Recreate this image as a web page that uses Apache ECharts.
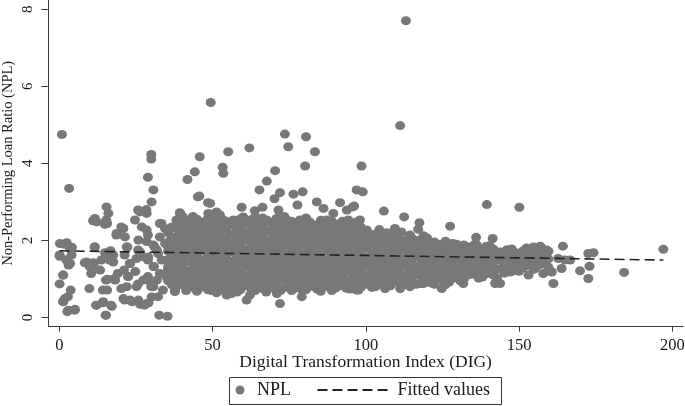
<!DOCTYPE html>
<html>
<head>
<meta charset="utf-8">
<title>NPL vs DIG</title>
<script src="https://cdn.jsdelivr.net/npm/echarts@6.0.0/dist/echarts.min.js"></script>
<style>html,body{margin:0;padding:0;background:#fff;}</style>
</head>
<body>
<div id="main" style="width:685px;height:406px;"></div>
<script type="text/javascript">
// tick values
var xTicks = [0, 50, 100, 150, 200];
var yTicks = [0, 2, 4, 6, 8];

// sparse points, low DIG (x < 35)
var lowPts = [
  [0.85,4.75],[3.2,3.35],[0.2,1.92],[2.4,1.94],[3.5,1.79],[4.0,1.62],[0.1,1.59],[2.4,1.49],[3.5,1.4],[1.3,1.1],
  [0.1,0.87],[3.7,0.71],[1.8,0.49],[1.3,0.41],[2.9,0.19],[5.1,0.21],[4.1,1.82],[9.8,0.75],[8.9,1.44],[11.1,1.42],
  [11.6,1.83],[11.3,1.33],[11.6,2.57],[12.2,2.48],[13.3,1.23],[12.0,0.32],[14.3,0.41],[17.1,0.29],[15.2,0.06],[15.4,2.87],
  [16.0,2.7],[15.6,2.44],[14.9,1.68],[16.5,1.53],[15.2,0.97],[15.6,0.71],[18.2,0.97],[17.6,1.62],[17.6,1.44],[18.7,2.18],
  [20.9,2.31],[21.4,2.09],[22.0,1.83],[23.1,1.4],[21.1,1.23],[22.5,1.06],[22.0,0.8],[24.7,2.53],[26.3,2.74],[28.5,2.7],
  [26.9,2.35],[28.5,2.27],[25.8,2.01],[28.5,1.97],[26.3,1.7],[25.2,1.53],[29.0,1.57],[30.7,1.32],[25.2,0.8],[27.4,0.97],
  [26.3,0.34],[28.5,0.36],[25.8,0.45],[20.9,0.49],[23.1,0.45],[30.1,0.53],[30.7,0.8],[29.6,0.93],[30.7,1.88],[31.8,1.75],
  [30.1,3.0],[30.7,3.31],[32.8,2.44],[34.5,2.31],[32.8,2.09],[34.5,1.92],[33.4,1.49],[32.8,1.14],[31.8,0.97],[32.6,0.06],
  [35.3,0.03],[30.0,4.23],[30.0,4.11],[28.9,3.64],[16.7,1.73],[15.9,1.62],[13.7,1.49],[16.4,1.49],[22.2,1.83],[21.3,1.62],
  [23.0,1.4],[25.7,1.75],[26.8,1.58],[28.9,1.49],[31.1,1.83],[32.2,1.66],[30.9,1.32],[10.4,1.14],[14.2,0.71],[15.7,0.99],
  [18.0,1.01],[20.2,0.75],[21.3,0.45],[23.7,0.41],[27.8,0.32],[29.1,0.38],[22.4,1.06],[24.8,1.19],[25.7,0.87],[32.2,0.54],
  [33.8,0.71],[30.0,0.8],[28.9,1.06],[34.9,1.06],[19.1,1.14],[11.0,2.51],[14.8,2.42],[15.3,2.53],[25.7,2.79],[28.4,2.8],
  [20.2,2.35],[18.6,2.14],[28.9,2.14],[33.3,2.44],[1.7,1.9],[0.1,1.62],[2.3,1.5],[3.0,1.36],[1.2,1.1],[2.8,0.54],
  [1.2,0.41],[2.6,0.15],[5.0,0.19],[8.3,1.42],[9.9,1.32],[12.1,0.32],[14.2,0.38],[15.1,0.06],[16.9,0.32],[11.5,1.83]
];

// edges and outliers of the main cloud (35 < x < 100)
var midPts = [
  [45.8,4.17],[44.2,3.78],[41.8,3.58],[45.2,3.13],[48.5,2.98],[39.3,2.72],[38.2,2.53],[42.0,2.53],[43.6,2.62],[36.5,2.0],
  [35.5,1.83],[36.5,1.58],[35.5,1.32],[37.2,1.23],[38.3,0.97],[37.7,0.67],[39.4,2.7],[43.7,2.57],[45.9,2.48],[48.6,2.7],
  [51.3,2.74],[49.2,2.96],[45.7,3.15],[51.3,0.67],[54.6,0.58],[61.1,0.45],[49.4,5.58],[53.3,3.9],[53.5,3.74],[55.1,4.3],
  [62.0,4.4],[70.4,3.81],[67.7,3.54],[65.3,3.31],[72.0,3.24],[70.2,3.08],[76.4,3.2],[79.4,3.26],[73.6,4.76],[74.7,4.43],
  [80.5,4.69],[83.4,4.3],[80.2,3.93],[77.7,2.92],[71.5,2.79],[59.5,2.86],[63.8,2.77],[66.3,2.86],[84.0,3.0],[86.2,2.83],
  [91.6,2.98],[89.4,2.7],[93.8,2.79],[96.2,2.89],[97.0,3.31],[98.6,3.93],[99.0,3.26],[60.0,2.61],[56.8,2.53],[52.4,2.66],
  [50.2,2.61],[48.1,2.53],[78.5,2.53],[81.8,2.44],[87.2,2.53],[91.6,2.44],[94.3,2.53],[97.0,2.48],[67.7,2.53],[70.9,2.57],
  [74.2,2.53],[51.3,0.64],[56.2,0.62],[62.2,0.58],[72.0,0.36],[79.1,0.54],[84.5,0.75],[97.0,0.71],[65.5,0.8],[74.2,0.8],
  [89.4,0.84],[48.1,0.88]
];

// points beyond DIG 95
var highPts = [
  [111.2,4.98],[113.1,7.7],[95.7,2.87],[105.9,2.76],[112.5,2.61],[117.5,2.46],[117.1,2.29],[127.5,2.37],[139.5,2.93],[136.0,2.08],
  [141.4,2.05],[146.0,1.75],[109.5,2.31],[110.1,2.14],[114.4,2.14],[115.0,2.05],[98.1,2.53],[100.3,2.27],[103.5,2.05],[105.7,1.92],
  [109.0,1.83],[121.0,1.79],[124.2,1.75],[128.6,1.83],[130.7,1.85],[134.0,1.83],[136.2,1.88],[140.5,1.7],[142.7,1.62],[124.8,0.75],
  [131.8,0.88],[142.2,0.88],[111.2,0.75],[114.4,0.8],[97.6,0.71],[106.3,0.75],[101.4,0.84],[118.8,0.88],[127.5,1.06],[139.5,1.14],
  [144.9,1.23],[150.1,2.86],[164.3,1.85],[146.2,1.75],[152.0,1.76],[154.7,1.83],[156.9,1.85],[159.0,1.75],[153.6,1.62],[156.3,1.62],
  [158.0,1.62],[172.6,1.66],[174.3,1.68],[197.1,1.77],[169.9,1.21],[173.0,1.33],[172.6,1.01],[184.3,1.17],[161.2,0.88],[160.7,1.18],
  [163.9,1.27],[166.7,1.49],[143.8,0.88],[147.1,1.18],[153.1,1.1],[157.9,1.14],[155.2,1.27],[153.6,1.4],[149.2,1.36],[150.3,1.57],
  [144.9,1.49],[146.0,1.27],[162.8,1.53],[165.0,1.49]
];

// dense core of the cloud, read column by column
var coreDig = [35.5, 37.8, 40.2, 42.6, 44.9, 47.3, 49.6, 52.1, 54.4, 56.8, 59.1, 61.5, 63.9,
               66.3, 68.7, 71.0, 73.4, 75.8, 78.2, 80.5, 82.9, 85.3, 87.7, 90.1, 92.4, 94.8,
               97.2, 99.6, 102.0, 104.4, 106.8, 109.2, 111.6, 114.0, 116.4, 118.8, 121.2, 123.6, 126.0, 128.4, 130.8,
               133.2, 135.6, 138.0, 140.4, 142.8, 145.2, 147.6, 150.0, 152.4, 154.8, 157.2, 159.6];
var coreNpl = [
  [0.95,1.25,1.5,1.72,1.95,2.2],
  [0.72,1.02,1.3,1.55,1.8,2.05,2.32],
  [0.85,1.08,1.35,1.6,1.82,2.1,2.38,2.62],
  [0.78,1.0,1.22,1.45,1.7,1.93,2.15,2.4],
  [0.68,0.92,1.15,1.38,1.62,1.85,2.08,2.3,2.55],
  [0.82,1.05,1.28,1.5,1.75,1.98,2.2,2.45],
  [0.7,0.95,1.18,1.4,1.65,1.88,2.12,2.36,2.6],
  [0.8,1.02,1.25,1.48,1.7,1.95,2.18,2.42],
  [0.66,0.9,1.12,1.35,1.58,1.8,2.05,2.28,2.5],
  [0.78,1.0,1.22,1.46,1.7,1.92,2.15,2.4],
  [0.72,0.95,1.18,1.42,1.64,1.88,2.1,2.34,2.56],
  [0.82,1.06,1.3,1.52,1.76,2.0,2.22,2.45],
  [0.7,0.92,1.15,1.38,1.6,1.84,2.08,2.3,2.6],
  [0.75,0.98,1.2,1.44,1.66,1.9,2.12,2.36,2.58],
  [0.85,1.08,1.3,1.54,1.78,2.0,2.24,2.48],
  [0.62,0.9,1.14,1.36,1.6,1.82,2.06,2.3,2.55],
  [0.78,1.0,1.24,1.46,1.7,1.94,2.16,2.4,2.62],
  [0.7,0.94,1.16,1.4,1.62,1.86,2.1,2.32,2.5],
  [0.84,1.06,1.3,1.52,1.76,1.98,2.22,2.46],
  [0.72,0.96,1.2,1.42,1.66,1.88,2.12,2.36,2.58],
  [0.8,1.02,1.26,1.48,1.72,1.95,2.18,2.4],
  [0.68,0.92,1.14,1.38,1.6,1.84,2.06,2.3,2.52],
  [0.82,1.04,1.28,1.5,1.74,1.96,2.2,2.44],
  [0.76,0.98,1.22,1.44,1.68,1.9,2.14,2.36],
  [0.86,1.1,1.32,1.56,1.78,2.02,2.26,2.5],
  [0.74,0.96,1.2,1.42,1.66,1.88,2.1,2.34],
  [0.8,1.02,1.26,1.48,1.72,1.94,2.16,2.4],
  [0.88,1.1,1.34,1.56,1.8,2.02,2.24],
  [0.78,1.0,1.22,1.46,1.68,1.9,2.14],
  [0.9,1.12,1.36,1.58,1.82,2.04,2.28],
  [0.8,1.04,1.26,1.5,1.72,1.96,2.2],
  [0.92,1.14,1.38,1.6,1.84,2.06],
  [0.84,1.06,1.3,1.52,1.76,1.98,2.22],
  [0.95,1.18,1.4,1.64,1.86,2.08],
  [0.86,1.1,1.32,1.56,1.78,2.0],
  [0.98,1.2,1.44,1.66,1.9,2.12],
  [0.9,1.12,1.36,1.58,1.8],
  [1.0,1.22,1.46,1.68,1.9],
  [0.85,1.08,1.3,1.54,1.76,1.98],
  [1.02,1.25,1.48,1.7,1.92],
  [0.95,1.18,1.4,1.62,1.85],
  [1.1,1.32,1.55,1.78],
  [1.22,1.45,1.68,1.9],
  [1.05,1.3,1.52,1.75],
  [1.18,1.4,1.62,1.86],
  [1.02,1.26,1.5,1.7],
  [1.15,1.38,1.6],
  [1.3,1.52,1.78],
  [1.2,1.44,1.66],
  [1.35,1.58,1.8],
  [1.25,1.48,1.7],
  [1.38,1.6,1.82],
  [1.3,1.52,1.72]
];

// second pass over the core, between the columns above
var core2Dig = [36.7, 39.0, 41.4, 43.8, 46.1, 48.5, 50.8, 53.3, 55.6, 58.0, 60.3, 62.7, 65.1,
                67.5, 69.9, 72.2, 74.6, 77.0, 79.4, 81.7, 84.1, 86.5, 88.9, 91.3, 93.6, 96.0,
                98.4, 100.8, 103.2, 105.6, 108.0, 110.4, 112.8, 115.2, 117.6, 120.0, 122.4, 124.8, 127.2, 129.6,
                132.0, 134.4, 136.8, 139.2, 141.6, 144.0, 146.4, 148.8, 151.2, 153.6, 156.0, 158.4];
var core2Npl = [
  [0.85,1.12,1.38,1.62,1.85,2.08,2.35],
  [0.88,1.15,1.42,1.68,1.92,2.18,2.45],
  [0.7,0.96,1.2,1.48,1.72,1.96,2.25,2.5],
  [0.88,1.1,1.32,1.58,1.8,2.04,2.28,2.48],
  [0.78,1.02,1.25,1.5,1.74,1.96,2.2,2.42],
  [0.72,0.94,1.16,1.4,1.62,1.86,2.1,2.32,2.56],
  [0.84,1.06,1.3,1.52,1.76,2.0,2.24,2.48],
  [0.72,0.92,1.14,1.36,1.6,1.84,2.06,2.3,2.54],
  [0.8,1.02,1.24,1.46,1.7,1.92,2.16,2.4],
  [0.66,0.88,1.1,1.34,1.58,1.8,2.04,2.28,2.5],
  [0.84,1.06,1.3,1.54,1.76,2.0,2.22,2.46],
  [0.72,0.94,1.18,1.4,1.64,1.88,2.1,2.34,2.54],
  [0.82,1.04,1.26,1.5,1.72,1.96,2.2,2.46],
  [0.66,0.88,1.1,1.34,1.56,1.8,2.02,2.26,2.5],
  [0.76,1.0,1.22,1.46,1.7,1.92,2.16,2.4],
  [0.7,1.02,1.26,1.48,1.72,1.96,2.18,2.42,2.6],
  [0.88,1.1,1.34,1.58,1.8,2.04,2.28,2.5],
  [0.76,1.0,1.22,1.46,1.7,1.92,2.16,2.4],
  [0.7,0.94,1.18,1.4,1.64,1.86,2.1,2.34,2.52],
  [0.84,1.08,1.3,1.54,1.76,2.0,2.24,2.48],
  [0.74,0.96,1.2,1.42,1.66,1.88,2.12,2.36],
  [0.8,1.04,1.26,1.5,1.72,1.96,2.18,2.42],
  [0.7,0.92,1.16,1.38,1.62,1.84,2.08,2.3,2.5],
  [0.82,1.06,1.28,1.52,1.74,1.98,2.2,2.42],
  [0.76,0.98,1.22,1.44,1.68,1.9,2.14,2.38],
  [0.86,1.08,1.32,1.54,1.78,2.0,2.24],
  [0.78,1.0,1.22,1.46,1.68,1.92,2.14,2.34],
  [0.86,1.1,1.34,1.56,1.8,2.02,2.2],
  [0.8,1.02,1.26,1.48,1.72,1.94,2.16],
  [0.9,1.14,1.38,1.6,1.84,2.06],
  [0.82,1.04,1.28,1.5,1.74,1.96,2.18],
  [0.94,1.18,1.4,1.64,1.86,2.08],
  [0.86,1.08,1.32,1.54,1.78,2.0],
  [0.92,1.14,1.38,1.6,1.84,2.04],
  [0.88,1.1,1.34,1.56,1.78,2.0],
  [0.96,1.2,1.42,1.66,1.88,2.06],
  [0.86,1.08,1.3,1.54,1.76,1.96],
  [0.98,1.2,1.44,1.66,1.88],
  [0.92,1.14,1.36,1.6,1.82],
  [1.05,1.28,1.5,1.74,1.9],
  [1.0,1.22,1.44,1.66,1.88],
  [1.12,1.35,1.58,1.8],
  [1.02,1.25,1.48,1.7],
  [1.2,1.42,1.64,1.84],
  [1.1,1.32,1.55,1.78],
  [1.25,1.48,1.7],
  [1.4,1.62],
  [1.22,1.48,1.68],
  [1.28,1.5,1.72],
  [1.5,1.74],
  [1.35,1.56,1.76],
  [1.42,1.66]
];

// fitted line end points
var fitDig = [0.1, 197.1];
var fitNpl = [1.73, 1.49];

var myChart = echarts.init(document.getElementById('main'));

var npl = lowPts.concat(midPts, highPts);
function addColumns(xs, ys) {
    for (var i = 0; i < xs.length; i++) {
        for (var j = 0; j < ys[i].length; j++) {
            npl.push([xs[i], ys[i][j]]);
        }
    }
}
addColumns(coreDig, coreNpl);
addColumns(core2Dig, core2Npl);

var fitted = [];
for (var k = 0; k < fitDig.length; k++) {
    fitted.push([fitDig[k], fitNpl[k]]);
}

var serif = "'Liberation Serif', 'Times New Roman', serif";
var ink = '#1a1a1a';
var axisCol = '#3a3a3a';

var option = {
    animation: false,
    backgroundColor: '#fff',
    grid: { left: 48.3, right: 2, top: 0, bottom: 79.3, containLabel: false, outerBoundsMode: 'none' },
    xAxis: {
        type: 'value', min: -3.6, max: 203.5,
        name: 'Digital Transformation Index (DIG)',
        nameLocation: 'middle', nameGap: 36, nameMoveOverlap: false,
        nameTextStyle: { fontFamily: serif, fontSize: 17.5, color: ink, verticalAlign: 'middle' },
        axisLine: { onZero: false, lineStyle: { color: axisCol, width: 1 } },
        axisTick: { show: true, length: 5, customValues: xTicks, lineStyle: { color: axisCol } },
        axisLabel: { customValues: xTicks, margin: 10, fontFamily: serif, fontSize: 16.5, color: ink },
        splitLine: { show: false }
    },
    yAxis: {
        type: 'value', min: -0.24, max: 8.24,
        name: 'Non-Performing Loan Ratio (NPL)',
        nameLocation: 'middle', nameGap: 40, nameMoveOverlap: false,
        nameTextStyle: { fontFamily: serif, fontSize: 14.5, color: ink, verticalAlign: 'middle' },
        axisLine: { show: true, onZero: false, lineStyle: { color: axisCol, width: 1 } },
        axisTick: { show: true, length: 7, customValues: yTicks, lineStyle: { color: axisCol } },
        axisLabel: { customValues: yTicks, rotate: 90, margin: 12.5, fontFamily: serif, fontSize: 15, color: ink },
        splitLine: { show: false }
    },
    legend: [
        {
            data: [{ name: 'NPL', icon: 'circle' }],
            left: 235.5, top: 381, padding: 0,
            itemWidth: 9, itemHeight: 9,
            textStyle: { fontFamily: serif, fontSize: 18, color: ink, padding: [0, 0, 0, 7.5] }
        },
        {
            data: ['Fitted values'],
            left: 316.5, top: 381, padding: 0,
            itemWidth: 70, itemHeight: 12,
            itemStyle: { color: 'rgba(0,0,0,0)', opacity: 0, borderWidth: 0 },
            textStyle: { fontFamily: serif, fontSize: 18, color: ink, padding: [0, 0, 0, 5] }
        }
    ],
    graphic: [{
        type: 'rect',
        shape: { x: 229.5, y: 377.5, width: 272, height: 27 },
        style: { fill: 'none', stroke: '#333', lineWidth: 1 }
    }],
    series: [
        {
            name: 'NPL', type: 'scatter', data: npl,
            symbol: 'circle', symbolSize: [10, 9],
            itemStyle: { color: '#78787a', opacity: 1 }
        },
        {
            name: 'Fitted values', type: 'line', data: fitted,
            symbol: 'none', z: 5,
            itemStyle: { color: '#222' },
            lineStyle: { type: [10, 5], color: '#222', width: 1.6 }
        }
    ]
};
myChart.setOption(option);
</script>
</body>
</html>
